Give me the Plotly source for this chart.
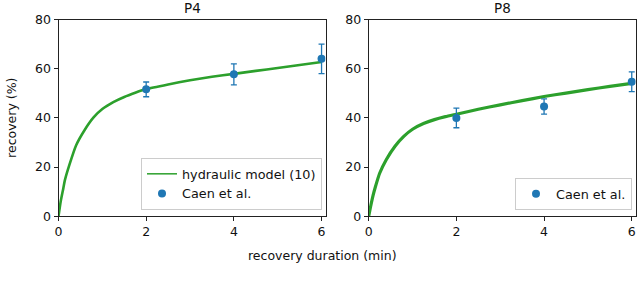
import plotly.graph_objects as go

# ---- data ----
model_x = [0, 0.05, 0.1, 0.15, 0.25, 0.4, 0.6, 0.8, 1.0, 1.25, 1.5, 1.75, 2.0, 2.5, 3.0, 3.5, 4.0, 4.5, 5.0, 5.5, 6.0]
p4_model = [0, 6, 10.5, 15, 21, 28.8, 35.2, 40.2, 43.6, 46.4, 48.5, 50.2, 51.7, 53.6, 55.3, 56.7, 57.9, 59.1, 60.3, 61.5, 62.7]
p8_model = [0, 4.5, 8.5, 11.8, 17.5, 23, 28.5, 32.5, 35.4, 37.7, 39.3, 40.5, 41.5, 43.5, 45.3, 47.0, 48.7, 50.1, 51.5, 52.8, 54.0]

exp_x = [2, 4, 6]
p4_exp = [51.6, 57.7, 64.0]
p4_err = [3.0, 4.3, 6.0]
p8_exp = [40.0, 44.6, 54.7]
p8_err = [4.0, 3.1, 4.0]

x_ticks = [0, 2, 4, 6]
y_ticks = [0, 20, 40, 60, 80]
panel_titles = ["P4", "P8"]

GREEN = "#2ca02c"
BLUE = "#1f77b4"
W, H = 640, 289
FONT = "DejaVu Sans"

fig = go.Figure()

def px_x(v):
    return v / W

def px_y(v):
    return (H - v) / H

dom1 = [px_x(58.5), px_x(325.5)]
dom2 = [px_x(368.7), px_x(635.7)]
ydom = [px_y(216.3), px_y(19.5)]

# panel 1
fig.add_trace(go.Scatter(x=model_x, y=p4_model, mode="lines",
                         line=dict(color=GREEN, width=2.6, shape="spline", smoothing=0.5),
                         showlegend=False, xaxis="x", yaxis="y", hoverinfo="skip"))
fig.add_trace(go.Scatter(x=[None], y=[None], mode="lines", name="hydraulic model (10)",
                         line=dict(color=GREEN, width=1.5), xaxis="x", yaxis="y", legend="legend"))
fig.add_trace(go.Scatter(x=exp_x, y=p4_exp, mode="markers", name="Caen et al.",
                         marker=dict(color=BLUE, size=8),
                         error_y=dict(type="data", array=p4_err, color=BLUE, thickness=1.3, width=3),
                         xaxis="x", yaxis="y", legend="legend"))

# panel 2
fig.add_trace(go.Scatter(x=model_x, y=p8_model, mode="lines",
                         line=dict(color=GREEN, width=3.2, shape="spline", smoothing=0.5),
                         showlegend=False, xaxis="x2", yaxis="y2", hoverinfo="skip"))
fig.add_trace(go.Scatter(x=exp_x, y=p8_exp, mode="markers", name="Caen et al.",
                         marker=dict(color=BLUE, size=8),
                         error_y=dict(type="data", array=p8_err, color=BLUE, thickness=1.3, width=3),
                         xaxis="x2", yaxis="y2", legend="legend2"))

axis_common = dict(showline=True, mirror=True, linecolor="#222", linewidth=1,
                   ticks="outside", ticklen=4, tickcolor="#222", tickwidth=1,
                   showgrid=False, zeroline=False, automargin=False,
                   tickfont=dict(family=FONT, size=12.5, color="#111"))

fig.update_layout(
    width=W, height=H,
    margin=dict(l=0, r=0, t=0, b=0, pad=0, autoexpand=False),
    plot_bgcolor="white", paper_bgcolor="white",
    font=dict(family=FONT, size=12.5, color="#111"),
    xaxis=dict(domain=dom1, range=[0, 6.09], tickvals=x_ticks, anchor="y", **axis_common),
    yaxis=dict(domain=ydom, range=[0, 80], tickvals=y_ticks, anchor="x", **axis_common),
    xaxis2=dict(domain=dom2, range=[0, 6.09], tickvals=x_ticks, anchor="y2", **axis_common),
    yaxis2=dict(domain=ydom, range=[0, 80], tickvals=y_ticks, anchor="x2", **axis_common),
    legend=dict(x=px_x(322), y=px_y(210), xanchor="right", yanchor="bottom",
                bordercolor="#cccccc", borderwidth=1, bgcolor="rgba(255,255,255,0.8)",
                font=dict(family=FONT, size=12.8, color="#111"), tracegroupgap=0,
                itemwidth=30),
    legend2=dict(x=px_x(632), y=px_y(210), xanchor="right", yanchor="bottom",
                 bordercolor="#cccccc", borderwidth=1, bgcolor="rgba(255,255,255,0.8)",
                 font=dict(family=FONT, size=12.8, color="#111"), itemwidth=30),
    annotations=[
        dict(text=panel_titles[0], x=(dom1[0] + dom1[1]) / 2, y=px_y(8), xref="paper", yref="paper",
             xanchor="center", yanchor="middle",
             showarrow=False, font=dict(family=FONT, size=13.5, color="#111")),
        dict(text=panel_titles[1], x=(dom2[0] + dom2[1]) / 2, y=px_y(8), xref="paper", yref="paper",
             xanchor="center", yanchor="middle",
             showarrow=False, font=dict(family=FONT, size=13.5, color="#111")),
        dict(text="recovery (%)", x=px_x(12), y=(ydom[0] + ydom[1]) / 2, xref="paper", yref="paper",
             xanchor="center", yanchor="middle",
             showarrow=False, textangle=-90, font=dict(family=FONT, size=12.5, color="#111")),
        dict(text="recovery duration (min)", x=px_x(322), y=px_y(255), xref="paper", yref="paper",
             xanchor="center", yanchor="middle",
             showarrow=False, font=dict(family=FONT, size=12.5, color="#111")),
    ],
)

fig.write_html("out.html", config={"displayModeBar": False},
               post_script="document.body.style.margin='0';document.body.style.padding='0';")
